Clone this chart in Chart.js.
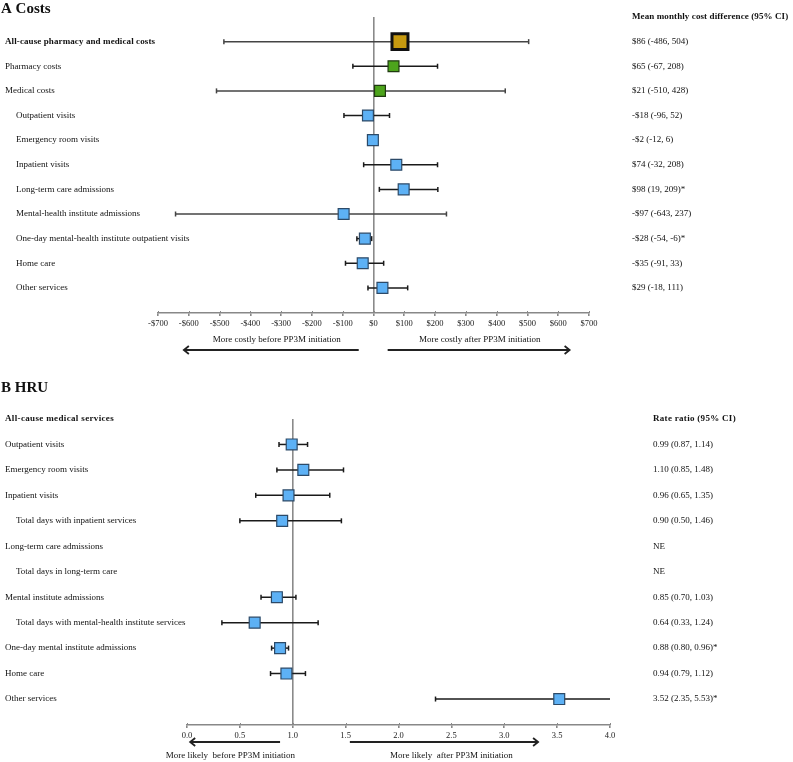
<!DOCTYPE html>
<html><head><meta charset="utf-8">
<script src="https://cdn.jsdelivr.net/npm/chart.js@4/dist/chart.umd.min.js"></script>
<style>
html,body{margin:0;padding:0;background:#fff;width:793px;height:762px;overflow:hidden}
#a{position:absolute;left:0;top:0;width:793px;height:365px}
#b{position:absolute;left:0;top:365px;width:793px;height:397px}
</style></head><body>
<div id="a"><canvas id="ca"></canvas></div>
<div id="b"><canvas id="cb"></canvas></div>
<script>
// ---------- Panel A data ----------
const costCategories = ['All-cause pharmacy and medical costs','Pharmacy costs','Medical costs','Outpatient visits','Emergency room visits','Inpatient visits','Long-term care admissions','Mental-health institute admissions','One-day mental-health institute outpatient visits','Home care','Other services'];
const costLevel = ['total','group','group','item','item','item','item','item','item','item','item'];
const costMean = [86,65,21,-18,-2,74,98,-97,-28,-35,29];
const costLow  = [-486,-67,-510,-96,-12,-32,19,-643,-54,-91,-18];
const costHigh = [504,208,428,52,6,208,209,237,-6,33,111];
const costText = ['$86 (-486, 504)','$65 (-67, 208)','$21 (-510, 428)','-$18 (-96, 52)','-$2 (-12, 6)','$74 (-32, 208)','$98 (19, 209)*','-$97 (-643, 237)','-$28 (-54, -6)*','-$35 (-91, 33)','$29 (-18, 111)'];
const costTicks = [-700,-600,-500,-400,-300,-200,-100,0,100,200,300,400,500,600,700];

// ---------- Panel B data ----------
const hruCategories = ['All-cause medical services','Outpatient visits','Emergency room visits','Inpatient visits','Total days with inpatient services','Long-term care admissions','Total days in long-term care','Mental institute admissions','Total days with mental-health institute services','One-day mental institute admissions','Home care','Other services'];
const hruLevel = ['header','group','group','group','item','group','item','group','item','group','group','group'];
const hruRatio = [null,0.99,1.10,0.96,0.90,null,null,0.85,0.64,0.88,0.94,3.52];
const hruLow   = [null,0.87,0.85,0.65,0.50,null,null,0.70,0.33,0.80,0.79,2.35];
const hruHigh  = [null,1.14,1.48,1.35,1.46,null,null,1.03,1.24,0.96,1.12,5.53];
const hruText  = ['','0.99 (0.87, 1.14)','1.10 (0.85, 1.48)','0.96 (0.65, 1.35)','0.90 (0.50, 1.46)','NE','NE','0.85 (0.70, 1.03)','0.64 (0.33, 1.24)','0.88 (0.80, 0.96)*','0.94 (0.79, 1.12)','3.52 (2.35, 5.53)*'];
const hruTicks = [0,0.5,1,1.5,2,2.5,3,3.5,4];

// ---------- styles ----------
const FONT = '"Liberation Serif","Times New Roman",serif';
const fillByLevel = {total:'#C79A10', group:'#4DA41C', item:'#5DB1F5'};
const borderByLevel = {total:'#111111', group:'#1f3a10', item:'#2c4a68'};

function forestPlugin(cfg){
  return {
    id:'forest'+cfg.key,
    beforeDatasetsDraw(chart){
      const ctx=chart.ctx, x=chart.scales.x, y=chart.scales.y;
      ctx.save();
      ctx.lineWidth=1.5;
      cfg.low.forEach((lo,i)=>{
        if(lo===null) return;
        const hi=cfg.high[i];
        const lo2=Math.max(lo,x.min), hi2=Math.min(hi,x.max);
        const py=y.getPixelForValue(i);
        const xl=x.getPixelForValue(lo2), xh=x.getPixelForValue(hi2);
        ctx.strokeStyle = (xh-xl)>200 ? '#444' : '#1a1a1a';
        ctx.beginPath(); ctx.moveTo(xl,py); ctx.lineTo(xh,py); ctx.stroke();
        if(lo>=x.min){ctx.beginPath();ctx.moveTo(xl,py-2.5);ctx.lineTo(xl,py+2.5);ctx.stroke();}
        if(hi<=x.max){ctx.beginPath();ctx.moveTo(xh,py-2.5);ctx.lineTo(xh,py+2.5);ctx.stroke();}
      });
      ctx.restore();
    },
    afterDraw(chart){
      const ctx=chart.ctx, x=chart.scales.x, y=chart.scales.y;
      ctx.save();
      ctx.fillStyle='#111'; ctx.textBaseline='middle'; ctx.textAlign='left';
      // title
      ctx.font='bold 15px '+FONT;
      ctx.fillText(cfg.title, 1, cfg.titleY);
      // row labels
      cfg.labels.forEach((lab,i)=>{
        const lev=cfg.level[i];
        const bold = lev==='total' || lev==='header';
        ctx.font=(bold?'bold ':'')+'9px '+FONT;
        ctx.letterSpacing = bold ? cfg.boldSpacing : '0px';
        ctx.fillText(lab, lev==='item'?16:5, y.getPixelForValue(i));
        ctx.letterSpacing='0px';
        ctx.font='9px '+FONT;
        if(cfg.texts[i]) ctx.fillText(cfg.texts[i], cfg.textX, y.getPixelForValue(i));
      });
      // header
      ctx.font='bold 9px '+FONT; ctx.letterSpacing=cfg.headerSpacing;
      ctx.fillText(cfg.header, cfg.textX, y.getPixelForValue(cfg.headerRow));
      ctx.letterSpacing='0px';
      // up tick marks
      ctx.strokeStyle='#888'; ctx.lineWidth=1;
      x.ticks.forEach(t=>{const px=Math.round(x.getPixelForValue(t.value))+0.5;ctx.beginPath();ctx.moveTo(px,chart.chartArea.bottom-2);ctx.lineTo(px,chart.chartArea.bottom);ctx.stroke();});
      // arrows
      ctx.strokeStyle='#222'; ctx.lineWidth=1.8;
      cfg.arrows.forEach(a=>{
        const x0=x.getPixelForValue(a.from), x1=x.getPixelForValue(a.to);
        const ay=chart.chartArea.bottom+a.dy;
        ctx.beginPath(); ctx.moveTo(x0,ay); ctx.lineTo(x1,ay); ctx.stroke();
        const d = x1>x0 ? -1 : 1;
        ctx.beginPath(); ctx.moveTo(x1+d*5,ay-4); ctx.lineTo(x1,ay); ctx.lineTo(x1+d*5,ay+4); ctx.stroke();
        ctx.font='9px '+FONT; ctx.textAlign='center';
        ctx.fillText(a.text, x.getPixelForValue(a.textAt), chart.chartArea.bottom+a.textDy);
        ctx.textAlign='left';
      });
      ctx.restore();
    }
  };
}

function buildChart(id, cfg){
  const pts = cfg.mean.map((v,i)=> v===null?null:{x:v,y:i});
  const levels = cfg.level;
  const kind = i => levels[i]==='total' ? 'total' : (levels[i]==='group' && cfg.key==='A' ? 'group' : 'item');
  return new Chart(document.getElementById(id),{
    type:'scatter',
    data:{datasets:[{
      data:pts.filter(p=>p!==null),
      pointStyle:'rect',
      pointRadius:ctx=>kind(ctx.raw.y)==='total'?11.3:7.7,
      pointBackgroundColor:ctx=>fillByLevel[kind(ctx.raw.y)],
      pointBorderColor:ctx=>borderByLevel[kind(ctx.raw.y)],
      pointBorderWidth:ctx=>kind(ctx.raw.y)==='total'?3:1.2,
      pointHoverRadius:0
    }]},
    options:{
      responsive:true, maintainAspectRatio:false, animation:false,
      events:[],
      layout:{padding:cfg.padding},
      plugins:{legend:{display:false},tooltip:{enabled:false}},
      scales:{
        x:{type:'linear',min:cfg.xmin,max:cfg.xmax,
          afterBuildTicks:s=>{s.ticks=cfg.ticks.map(v=>({value:v}));},
          afterFit:s=>{s.height=cfg.axisHeight;},
          ticks:{autoSkip:false,maxRotation:0,padding:3,color:'#222',font:{family:FONT,size:8.5},callback:cfg.fmt},
          grid:{drawOnChartArea:true,color:c=>(c.tick&&c.tick.value===cfg.ref)?'#8a8a8a':'rgba(0,0,0,0)',lineWidth:1.6,tickColor:'#888',tickLength:3},
          border:{display:true,color:'#888',width:1.5}
        },
        y:{type:'linear',display:false,reverse:true,min:cfg.ymin,max:cfg.ymax}
      }
    },
    plugins:[forestPlugin(cfg)]
  });
}

buildChart('ca',{
  key:'A', title:'A Costs', titleY:9,
  labels:costCategories, level:costLevel, mean:costMean, low:costLow, high:costHigh, texts:costText,
  header:'Mean monthly cost difference (95% CI)', headerRow:-1, textX:632,
  boldSpacing:'0.1px', headerSpacing:'0.1px',
  xmin:-700,xmax:700,ticks:costTicks,ref:0,
  fmt:v=>(v<0?'-':'')+'$'+Math.abs(v),
  ymin:-1,ymax:11.02,
  padding:{left:158,right:204,top:17,bottom:0}, axisHeight:52,
  arrows:[
    {from:-48,to:-616,dy:37,text:'More costly before PP3M initiation',textAt:-314,textDy:27},
    {from:46,to:637,dy:37,text:'More costly after PP3M initiation',textAt:345,textDy:27}
  ]
});

buildChart('cb',{
  key:'B', title:'B HRU', titleY:23,
  labels:hruCategories, level:hruLevel, mean:hruRatio, low:hruLow, high:hruHigh, texts:hruText,
  header:'Rate ratio (95% CI)', headerRow:0, textX:653,
  boldSpacing:'0.35px', headerSpacing:'0.3px',
  xmin:0,xmax:4,ticks:hruTicks,ref:1,
  fmt:v=>v.toFixed(1),
  ymin:0,ymax:12.02,
  padding:{left:187,right:183,top:54,bottom:0}, axisHeight:37,
  arrows:[
    {from:0.88,to:0.03,dy:17,text:'More likely  before PP3M initiation',textAt:0.41,textDy:31},
    {from:1.54,to:3.32,dy:17,text:'More likely  after PP3M initiation',textAt:2.5,textDy:31}
  ]
});
</script>
</body></html>
